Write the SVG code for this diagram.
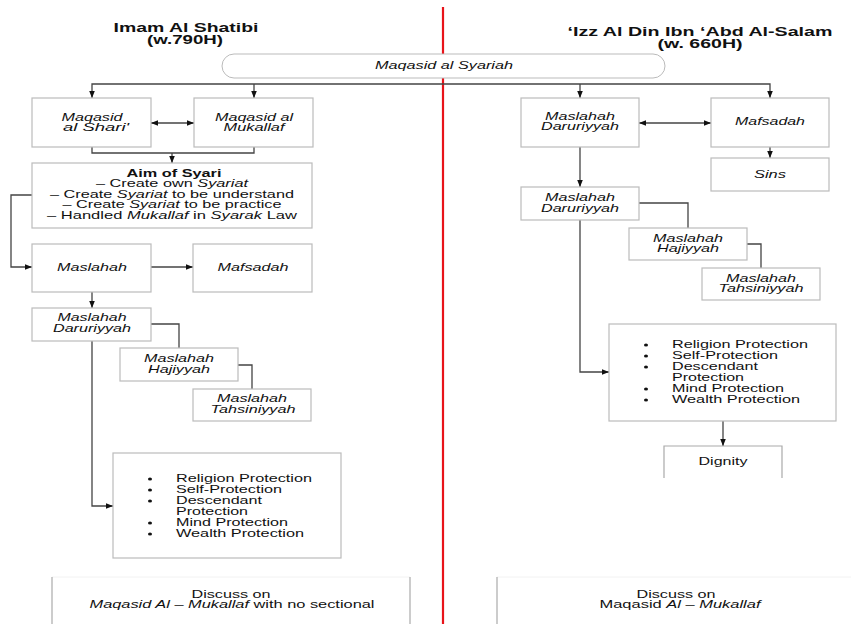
<svg xmlns="http://www.w3.org/2000/svg" width="851" height="624" viewBox="0 0 851 624">
<style>
text{font-family:"Liberation Sans",Arial,sans-serif;font-size:10.5px;fill:#111;}
.t{font-size:12.5px;font-weight:bold;text-anchor:middle;}
.c{text-anchor:middle;}
.i{font-style:italic;}
.b{font-weight:bold;}
.box{fill:#fff;stroke:#bbb;stroke-width:1.2;}
.open{fill:none;stroke:#aaa;stroke-width:1.2;}
.ln{fill:none;stroke:#444;stroke-width:1.3;}
</style>
<defs>
<marker id="ah" viewBox="0 0 10 10" refX="10" refY="5" markerWidth="7" markerHeight="7" markerUnits="userSpaceOnUse" orient="auto-start-reverse">
<path d="M0,1 L10,5 L0,9 Z" fill="#111"/>
</marker>
</defs>
<rect width="851" height="624" fill="#fff"/>
<line x1="443" y1="7" x2="443" y2="624" stroke="#e8131a" stroke-width="2.2"/>
<g id="title-left"><text class="t" x="186" y="32" textLength="145" lengthAdjust="spacingAndGlyphs">Imam Al Shatibi</text><text class="t" x="185" y="44" textLength="76" lengthAdjust="spacingAndGlyphs">(w.790H)</text></g>
<g id="title-right"><text class="t" x="700" y="36" textLength="265" lengthAdjust="spacingAndGlyphs">‘Izz Al Din Ibn ‘Abd Al-Salam</text><text class="t" x="700" y="48" textLength="85" lengthAdjust="spacingAndGlyphs">(w. 660H)</text></g>

<g id="connectors">
<polyline class="ln" points="92,98 92,84 770,84 770,98" marker-start="url(#ah)" marker-end="url(#ah)"/>
<line class="ln" x1="254" y1="84" x2="254" y2="98" marker-end="url(#ah)"/>
<line class="ln" x1="580" y1="84" x2="580" y2="98" marker-end="url(#ah)"/>
<line class="ln" x1="151" y1="123" x2="194" y2="123" marker-start="url(#ah)" marker-end="url(#ah)"/>
<polyline class="ln" points="92,147 92,153 254,153 254,147"/>
<line class="ln" x1="172" y1="153" x2="172" y2="163" marker-end="url(#ah)"/>
<polyline class="ln" points="32,195 11,195 11,267 32,267" marker-end="url(#ah)"/>
<line class="ln" x1="151" y1="267" x2="193" y2="267" marker-end="url(#ah)"/>
<line class="ln" x1="92" y1="292" x2="92" y2="308" marker-end="url(#ah)"/>
<polyline class="ln" points="151,324 179,324 179,348"/>
<polyline class="ln" points="238,365 252,365 252,389"/>
<polyline class="ln" points="92,341 92,506 113,506" marker-end="url(#ah)"/>
<line class="ln" x1="639" y1="123" x2="711" y2="123" marker-start="url(#ah)" marker-end="url(#ah)"/>
<line class="ln" x1="770" y1="147" x2="770" y2="158" marker-end="url(#ah)"/>
<line class="ln" x1="580" y1="147" x2="580" y2="187" marker-end="url(#ah)"/>
<polyline class="ln" points="639,203 688,203 688,228"/>
<polyline class="ln" points="747,244 761,244 761,268"/>
<polyline class="ln" points="580,220 580,372 609,372" marker-end="url(#ah)"/>
<line class="ln" x1="723" y1="421" x2="723" y2="446" marker-end="url(#ah)"/>
</g>

<g id="maqasid-syariah"><path d="M234,54 H653 A12,12 0 0 1 653,78 H234 A12,12 0 0 1 234,54 Z" fill="#fff" stroke="#bbb" stroke-width="1"/><text class="c i" x="444" y="69" textLength="138" lengthAdjust="spacingAndGlyphs">Maqasid al Syariah</text></g>

<g id="maqasid-shari"><rect class="box" x="32" y="98" width="119" height="49"/><text class="c i" x="92" y="121" textLength="61" lengthAdjust="spacingAndGlyphs">Maqasid</text><text class="c i" x="96" y="131" textLength="66" lengthAdjust="spacingAndGlyphs">al Shari'</text></g>
<g id="maqasid-mukallaf"><rect class="box" x="194" y="98" width="119" height="49"/><text class="c i" x="254" y="121" textLength="78" lengthAdjust="spacingAndGlyphs">Maqasid al</text><text class="c i" x="254" y="131" textLength="61" lengthAdjust="spacingAndGlyphs">Mukallaf</text></g>
<g id="aim"><rect class="box" x="32" y="163" width="280" height="65"/>
<text class="c b" x="174" y="177" textLength="95" lengthAdjust="spacingAndGlyphs">Aim of Syari</text>
<text class="c" x="172" y="187" textLength="152" lengthAdjust="spacingAndGlyphs">– Create own <tspan class="i">Syariat</tspan></text>
<text class="c" x="172" y="198" textLength="244" lengthAdjust="spacingAndGlyphs">– Create <tspan class="i">Syariat</tspan> to be understand</text>
<text class="c" x="172" y="208" textLength="219" lengthAdjust="spacingAndGlyphs">– Create <tspan class="i">Syariat</tspan> to be practice</text>
<text class="c" x="172" y="219" textLength="250" lengthAdjust="spacingAndGlyphs">–  Handled <tspan class="i">Mukallaf</tspan> in <tspan class="i">Syarak</tspan> Law</text></g>
<g id="maslahah-l"><rect class="box" x="32" y="244" width="119" height="48"/><text class="c i" x="92" y="271" textLength="70" lengthAdjust="spacingAndGlyphs">Maslahah</text></g>
<g id="mafsadah-l"><rect class="box" x="193" y="244" width="119" height="48"/><text class="c i" x="253" y="271" textLength="71" lengthAdjust="spacingAndGlyphs">Mafsadah</text></g>
<g id="daruriyyah-l"><rect class="box" x="32" y="308" width="119" height="33"/><text class="c i" x="92" y="321" textLength="69" lengthAdjust="spacingAndGlyphs">Maslahah</text><text class="c i" x="92" y="332" textLength="78" lengthAdjust="spacingAndGlyphs">Daruriyyah</text></g>
<g id="hajiyyah-l"><rect class="box" x="120" y="348" width="118" height="33"/><text class="c i" x="179" y="362" textLength="70" lengthAdjust="spacingAndGlyphs">Maslahah</text><text class="c i" x="179" y="373" textLength="62" lengthAdjust="spacingAndGlyphs">Hajiyyah</text></g>
<g id="tahsiniyyah-l"><rect class="box" x="193" y="389" width="118" height="32"/><text class="c i" x="252" y="402" textLength="70" lengthAdjust="spacingAndGlyphs">Maslahah</text><text class="c i" x="253" y="413" textLength="85" lengthAdjust="spacingAndGlyphs">Tahsiniyyah</text></g>
<g id="protection-l"><rect class="box" x="113" y="453" width="228" height="105"/>
<g fill="#111"><ellipse cx="150" cy="479" rx="2" ry="1.6"/><ellipse cx="150" cy="490" rx="2" ry="1.6"/><ellipse cx="150" cy="501" rx="2" ry="1.6"/><ellipse cx="150" cy="523" rx="2" ry="1.6"/><ellipse cx="150" cy="534" rx="2" ry="1.6"/></g>
<text x="176" y="482" textLength="136" lengthAdjust="spacingAndGlyphs">Religion Protection</text><text x="176" y="493" textLength="106" lengthAdjust="spacingAndGlyphs">Self-Protection</text><text x="176" y="504" textLength="86" lengthAdjust="spacingAndGlyphs">Descendant</text><text x="176" y="515" textLength="72" lengthAdjust="spacingAndGlyphs">Protection</text><text x="176" y="526" textLength="112" lengthAdjust="spacingAndGlyphs">Mind Protection</text><text x="176" y="537" textLength="128" lengthAdjust="spacingAndGlyphs">Wealth Protection</text></g>
<g id="discuss-l"><line x1="52" y1="577" x2="410" y2="577" stroke="#f2f2f2" stroke-width="1"/><line x1="52" y1="577" x2="52" y2="624" stroke="#aaa" stroke-width="1.2"/><line x1="410" y1="577" x2="410" y2="624" stroke="#aaa" stroke-width="1.2"/>
<text class="c" x="231" y="598" textLength="79" lengthAdjust="spacingAndGlyphs">Discuss on</text><text class="c" x="232" y="608" textLength="285" lengthAdjust="spacingAndGlyphs"><tspan class="i">Maqasid Al – Mukallaf</tspan> with no sectional</text></g>

<g id="daruriyyah-r1"><rect class="box" x="521" y="98" width="118" height="49"/><text class="c i" x="580" y="120" textLength="70" lengthAdjust="spacingAndGlyphs">Maslahah</text><text class="c i" x="580" y="130" textLength="78" lengthAdjust="spacingAndGlyphs">Daruriyyah</text></g>
<g id="mafsadah-r"><rect class="box" x="711" y="98" width="118" height="49"/><text class="c i" x="770" y="125" textLength="70" lengthAdjust="spacingAndGlyphs">Mafsadah</text></g>
<g id="sins"><rect class="box" x="711" y="158" width="118" height="33"/><text class="c i" x="770" y="178" textLength="32" lengthAdjust="spacingAndGlyphs">Sins</text></g>
<g id="daruriyyah-r2"><rect class="box" x="521" y="187" width="118" height="33"/><text class="c i" x="580" y="201" textLength="70" lengthAdjust="spacingAndGlyphs">Maslahah</text><text class="c i" x="580" y="212" textLength="78" lengthAdjust="spacingAndGlyphs">Daruriyyah</text></g>
<g id="hajiyyah-r"><rect class="box" x="629" y="228" width="118" height="32"/><text class="c i" x="688" y="242" textLength="70" lengthAdjust="spacingAndGlyphs">Maslahah</text><text class="c i" x="688" y="252" textLength="62" lengthAdjust="spacingAndGlyphs">Hajiyyah</text></g>
<g id="tahsiniyyah-r"><rect class="box" x="702" y="268" width="118" height="32"/><text class="c i" x="761" y="282" textLength="70" lengthAdjust="spacingAndGlyphs">Maslahah</text><text class="c i" x="761" y="292" textLength="85" lengthAdjust="spacingAndGlyphs">Tahsiniyyah</text></g>
<g id="protection-r"><rect class="box" x="609" y="324" width="227" height="97"/>
<g fill="#111"><ellipse cx="646" cy="345" rx="2" ry="1.6"/><ellipse cx="646" cy="356" rx="2" ry="1.6"/><ellipse cx="646" cy="367" rx="2" ry="1.6"/><ellipse cx="646" cy="389" rx="2" ry="1.6"/><ellipse cx="646" cy="400" rx="2" ry="1.6"/></g>
<text x="672" y="348" textLength="136" lengthAdjust="spacingAndGlyphs">Religion Protection</text><text x="672" y="359" textLength="106" lengthAdjust="spacingAndGlyphs">Self-Protection</text><text x="672" y="370" textLength="86" lengthAdjust="spacingAndGlyphs">Descendant</text><text x="672" y="381" textLength="72" lengthAdjust="spacingAndGlyphs">Protection</text><text x="672" y="392" textLength="112" lengthAdjust="spacingAndGlyphs">Mind Protection</text><text x="672" y="403" textLength="128" lengthAdjust="spacingAndGlyphs">Wealth Protection</text></g>
<g id="dignity"><polyline class="open" points="664,478 664,446 782,446 782,478"/><text class="c" x="723" y="465" textLength="49" lengthAdjust="spacingAndGlyphs">Dignity</text></g>
<g id="discuss-r"><line x1="497" y1="577" x2="851" y2="577" stroke="#f2f2f2" stroke-width="1"/><line x1="497" y1="577" x2="497" y2="624" stroke="#aaa" stroke-width="1.2"/>
<text class="c" x="676" y="598" textLength="79" lengthAdjust="spacingAndGlyphs">Discuss on</text><text class="c" x="680" y="608" textLength="161" lengthAdjust="spacingAndGlyphs">Maqasid <tspan class="i">Al – Mukallaf</tspan></text></g>
</svg>
